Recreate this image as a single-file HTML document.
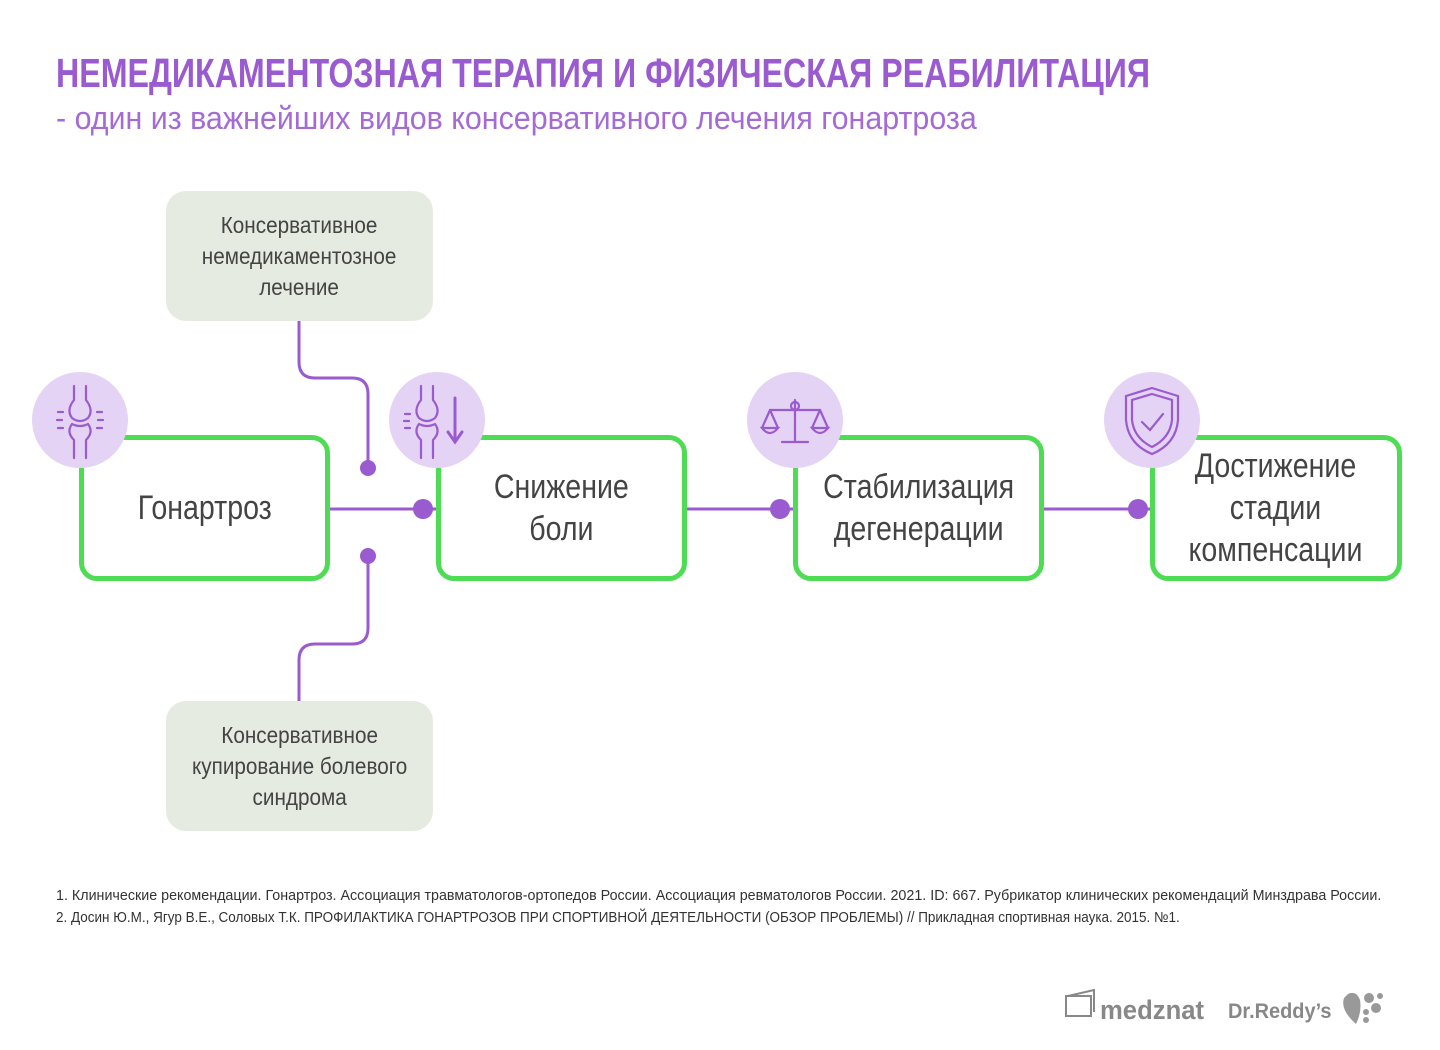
<!DOCTYPE html>
<html><head><meta charset="utf-8"><style>
body{margin:0;width:1440px;height:1050px;background:#fff;position:relative;overflow:hidden;font-family:"Liberation Sans",sans-serif;}
.t{position:absolute;white-space:nowrap;transform-origin:0 0}
.box{position:absolute;border:5px solid #4fdc55;border-radius:18px;box-sizing:border-box;background:#fff;display:flex;align-items:center;justify-content:center;text-align:center;color:#444;font-size:34px;line-height:42px}
.box div{transform:scaleX(0.84);white-space:nowrap}
.gray{position:absolute;background:#e6ebe2;border-radius:20px;display:flex;align-items:center;justify-content:center;text-align:center;color:#444;font-size:23px;line-height:31px}
.gray div{transform:scaleX(0.9);white-space:nowrap}
.circ{position:absolute;width:96px;height:96px;border-radius:50%;background:#e4d3f4}
</style></head><body>
<div class="t" style="left:56px;top:50px;font-size:41px;font-weight:bold;color:#9a5bd0;transform:scaleX(0.785)">НЕМЕДИКАМЕНТОЗНАЯ ТЕРАПИЯ И ФИЗИЧЕСКАЯ РЕАБИЛИТАЦИЯ</div>
<div class="t" style="left:56px;top:100px;font-size:32px;color:#a46bd6;transform:scaleX(0.95)">- один из важнейших видов консервативного лечения гонартроза</div>

<svg width="1440" height="1050" style="position:absolute;left:0;top:0">
<g fill="none" stroke="#9a5bd0" stroke-width="3">
<path d="M299 321 V362 Q299 378 315 378 H352 Q368 378 368 394 V468"/>
<path d="M368 556 V628 Q368 644 352 644 H315 Q299 644 299 660 V701"/>
<path d="M329 509 H437 M686 509 H794 M1043 509 H1151"/>
</g>
<g fill="#9a5bd0">
<circle cx="368" cy="468" r="8"/><circle cx="368" cy="556" r="8"/>
<circle cx="423" cy="509" r="10"/><circle cx="780" cy="509" r="10"/><circle cx="1138" cy="509" r="10"/>
</g>
</svg>

<div class="gray" style="left:166px;top:191px;width:267px;height:130px"><div>Консервативное<br>немедикаментозное<br>лечение</div></div>
<div class="gray" style="left:166px;top:701px;width:267px;height:130px"><div>Консервативное<br>купирование болевого<br>синдрома</div></div>

<div class="box" style="left:79px;top:435px;width:251px;height:146px"><div>Гонартроз</div></div>
<div class="box" style="left:436px;top:435px;width:251px;height:146px"><div>Снижение<br>боли</div></div>
<div class="box" style="left:793px;top:435px;width:251px;height:146px"><div>Стабилизация<br>дегенерации</div></div>
<div class="box" style="left:1150px;top:435px;width:252px;height:146px"><div>Достижение<br>стадии<br>компенсации</div></div>

<div class="circ" style="left:32px;top:372px"></div>
<div class="circ" style="left:389px;top:372px"></div>
<div class="circ" style="left:747px;top:372px"></div>
<div class="circ" style="left:1104px;top:372px"></div>
<svg width="1440" height="1050" style="position:absolute;left:0;top:0">
<g fill="none" stroke="#9a5bd0" stroke-width="2.2" stroke-linecap="round">
<path d="M74 386 V400 Q66 410 72 418 Q80 424 88 418 Q94 410 86 400 V386"/>
<path d="M72 424 Q66 432 74 440 V458 M88 424 Q94 432 86 440 V458 M72 424 Q80 428 88 424"/>
<path d="M58 412 H63 M57 420 H62 M58 428 H63 M97 412 H102 M98 420 H103 M97 428 H102"/>
<path d="M421 386 V400 Q413 410 419 418 Q427 424 435 418 Q441 410 433 400 V386"/>
<path d="M419 424 Q413 432 421 440 V458 M435 424 Q441 432 433 440 V458 M419 424 Q427 428 435 424"/>
<path d="M405 414 H410 M404 421 H409 M405 428 H410"/>
<path d="M455 398 V440 M448 432 L455 442 L462 432" stroke-width="3"/>
<path d="M795 400 V442 M782 442 H808 M770 410 H820 M770 410 L762 428 M770 410 L778 428 M820 410 L812 428 M820 410 L828 428 M762 428 Q770 438 778 428 Z M812 428 Q820 438 828 428 Z"/>
<circle cx="795" cy="406" r="4"/>
<path d="M1152 388 L1178 396 V420 Q1176 444 1152 454 Q1128 444 1126 420 V396 Z"/>
<path d="M1152 394 L1172 400 V420 Q1170 438 1152 447 Q1134 438 1132 420 V400 Z"/>
<path d="M1142 422 L1150 430 L1163 414"/>
</g>
</svg>

<div class="t" style="left:56px;top:888px;font-size:14.5px;color:#333;transform:scaleX(0.986)">1. Клинические рекомендации. Гонартроз. Ассоциация травматологов-ортопедов России. Ассоциация ревматологов России. 2021. ID: 667. Рубрикатор клинических рекомендаций Минздрава России.</div>
<div class="t" style="left:56px;top:910px;font-size:14.5px;color:#333;transform:scaleX(0.93)">2. Досин Ю.М., Ягур В.Е., Соловых Т.К. ПРОФИЛАКТИКА ГОНАРТРОЗОВ ПРИ СПОРТИВНОЙ ДЕЯТЕЛЬНОСТИ (ОБЗОР ПРОБЛЕМЫ) // Прикладная спортивная наука. 2015. №1.</div>

<svg width="1440" height="1050" style="position:absolute;left:0;top:0">
<g fill="none" stroke="#888" stroke-width="2"><rect x="1066" y="996" width="25" height="20"/><path d="M1068 996 L1094 990 V1012"/></g>
<g fill="#999"><path d="M1348 994 Q1356 990 1360 1000 Q1362 1012 1356 1024 Q1340 1010 1344 998 Z"/><circle cx="1369" cy="998" r="5"/><circle cx="1380" cy="996" r="3"/><circle cx="1376" cy="1008" r="5"/><circle cx="1366" cy="1012" r="3"/><circle cx="1366" cy="1020" r="3"/></g>
</svg>
<div class="t" style="left:1100px;top:995px;font-size:27px;color:#888;font-weight:bold;transform:scaleX(0.95)">medznat</div>
<div class="t" style="left:1228px;top:1000px;font-size:21px;color:#888;font-weight:bold;transform:scaleX(0.95)">Dr.Reddy’s</div>
</body></html>
